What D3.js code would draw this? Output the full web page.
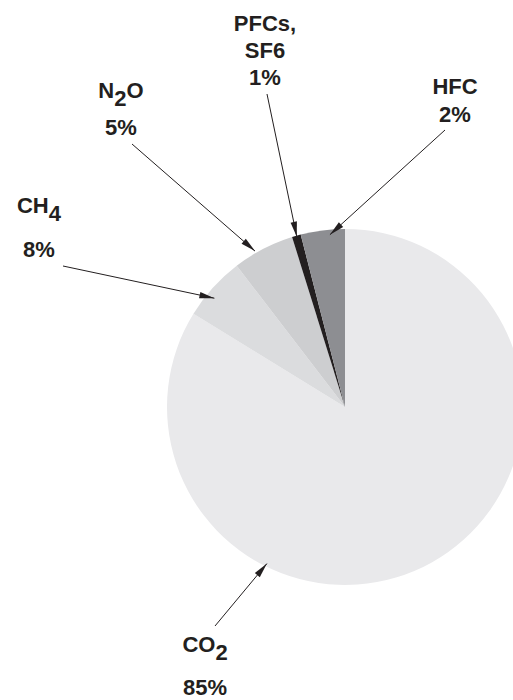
<!DOCTYPE html>
<html>
<head>
<meta charset="utf-8">
<script src="https://cdn.jsdelivr.net/npm/d3@7"></script>
<style>
  body { margin: 0; background: #fff; }
  .lbl { font-family: "Liberation Sans", Arial, sans-serif; font-weight: bold; font-size: 22px; fill: #231f20; }
</style>
</head>
<body>
<svg id="chart" width="513" height="700"></svg>
<script>
// gases, clockwise from 12 o'clock
var gases = ["CO2", "CH4", "N2O", "PFCs, SF6", "HFC"];
// percentages printed on the labels
var labelShares = [85, 8, 5, 1, 2];
// slice sizes as they are drawn in the picture (the drawing is not to scale)
var drawnShares = [83.7, 5.8, 5.6, 0.8, 4.0];
var sliceColors = ["#e9e9eb", "#dbdcde", "#cdced0", "#231f20", "#8d8e92"];

// label layout: text lines (with optional subscript), anchor point, arrow tail,
// arrow tip angle (deg, clockwise from 12 o'clock) and tip radius
var labelLayout = [
  { name: ["CO", "2"], x: 205, y: 652, pctY: 695, tail: [215, 626], tipDeg: 206.5, tipR: 175 },
  { name: ["CH", "4"], x: 39, y: 213, pctY: 257, tail: [63, 266], tipDeg: 309.8, tipR: 170 },
  { name: ["N", "2", "O"], x: 121, y: 98, pctY: 135, tail: [132, 144], tipDeg: 330, tipR: 180 },
  { name: ["PFCs,", "SF6"], x: 265, y: 31, pctY: 85, tail: [267, 94], tipDeg: 344.2, tipR: 177, lines: true },
  { name: ["HFC"], x: 455, y: 94, pctY: 122, tail: [445, 130], tipDeg: 355, tipR: 173 }
];

var svg = d3.select("#chart");
var cx = 345, cy = 407, radius = 178;

var pie = d3.pie().sort(null).value(function(d){ return d; });
var arc = d3.arc().innerRadius(0).outerRadius(radius);

var g = svg.append("g").attr("transform", "translate(" + cx + "," + cy + ")");

g.selectAll("path.slice")
  .data(pie(drawnShares))
  .enter().append("path")
  .attr("class", "slice")
  .attr("d", arc)
  .attr("fill", function(d, i){ return sliceColors[i]; });

// arrows
function arrowHead(x1, y1, x2, y2)
{
  var len = 15, half = 3.2;
  var dx = x2 - x1, dy = y2 - y1;
  var l = Math.sqrt(dx*dx + dy*dy);
  var ux = dx / l, uy = dy / l;
  var bx = x2 - ux*len, by = y2 - uy*len;
  return [[x2, y2], [bx - uy*half, by + ux*half], [bx + uy*half, by - ux*half]];
}

labelLayout.forEach(function(L, i)
{
  var a = L.tipDeg * Math.PI / 180;
  var tx = cx + L.tipR * Math.sin(a);
  var ty = cy - L.tipR * Math.cos(a);

  svg.append("line")
    .attr("x1", L.tail[0]).attr("y1", L.tail[1])
    .attr("x2", tx).attr("y2", ty)
    .attr("stroke", "#231f20").attr("stroke-width", 1);

  svg.append("polygon")
    .attr("points", arrowHead(L.tail[0], L.tail[1], tx, ty).map(function(p){ return p.join(","); }).join(" "))
    .attr("fill", "#231f20");

  if( L.lines )
  {
    // multi-line name
    L.name.forEach(function(s, k){
      svg.append("text").attr("class", "lbl")
        .attr("x", L.x).attr("y", L.y + k*27)
        .attr("text-anchor", "middle").text(s);
    });
  }
  else
  {
    var t = svg.append("text").attr("class", "lbl")
      .attr("x", L.x).attr("y", L.y).attr("text-anchor", "middle");
    t.append("tspan").text(L.name[0]);
    if( L.name.length > 1 )
      t.append("tspan").attr("dy", 8).text(L.name[1]);
    if( L.name.length > 2 )
      t.append("tspan").attr("dy", -8).text(L.name[2]);
  }

  svg.append("text").attr("class", "lbl")
    .attr("x", L.x).attr("y", L.pctY)
    .attr("text-anchor", "middle")
    .text(labelShares[i] + "%");
});
</script>
</body>
</html>
